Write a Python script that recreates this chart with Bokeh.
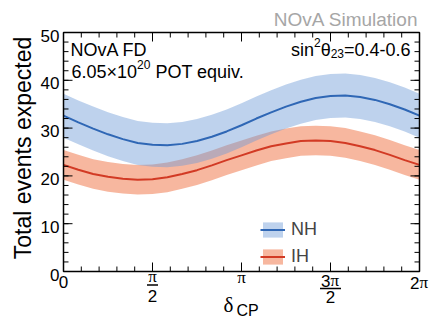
import numpy as np
from bokeh.plotting import figure
from bokeh.models import Range1d, Legend, LegendItem, ColumnDataSource
from bokeh.core.properties import value
from bokeh.embed import file_html
from bokeh.resources import INLINE

# ---------------- data ----------------
delta_over_pi = [k / 12 for k in range(25)]   # delta_CP in units of pi

nh_central = [32.6, 31.2, 29.9, 28.7, 27.7, 26.9, 26.5, 26.4, 26.7, 27.3, 28.2, 29.3,
              30.6, 32.0, 33.3, 34.5, 35.5, 36.3, 36.7, 36.8, 36.5, 35.9, 35.0, 33.9, 32.6]
nh_upper = [37.2, 35.8, 34.5, 33.3, 32.3, 31.5, 31.1, 31.0, 31.3, 31.9, 32.8, 33.9,
            35.2, 36.6, 37.9, 39.1, 40.1, 40.9, 41.3, 41.4, 41.1, 40.5, 39.6, 38.5, 37.2]
nh_lower = [28.0, 26.6, 25.3, 24.1, 23.1, 22.3, 21.9, 21.8, 22.1, 22.7, 23.6, 24.7,
            26.0, 27.4, 28.7, 29.9, 30.9, 31.7, 32.1, 32.2, 31.9, 31.3, 30.4, 29.3, 28.0]

ih_central = [22.3, 21.3, 20.4, 19.8, 19.4, 19.2, 19.3, 19.7, 20.4, 21.2, 22.2, 23.3,
              24.3, 25.3, 26.2, 26.8, 27.3, 27.4, 27.3, 26.9, 26.2, 25.4, 24.4, 23.3, 22.3]
ih_upper = [25.4, 24.4, 23.5, 22.9, 22.5, 22.3, 22.4, 22.8, 23.5, 24.3, 25.3, 26.4,
            27.4, 28.4, 29.3, 29.9, 30.4, 30.5, 30.4, 30.0, 29.3, 28.5, 27.5, 26.4, 25.4]
ih_lower = [19.2, 18.2, 17.3, 16.7, 16.3, 16.1, 16.2, 16.6, 17.3, 18.1, 19.1, 20.2,
            21.2, 22.2, 23.1, 23.7, 24.2, 24.3, 24.2, 23.8, 23.1, 22.3, 21.3, 20.2, 19.2]

xtick_over_pi = [0, 0.5, 1, 1.5, 2]
xminor_over_pi = [k / 10 for k in range(21)]
y_major = [0, 10, 20, 30, 40, 50]
y_minor = [2 * k for k in range(26)]
y_tick_labels = ["0", "10", "20", "30", "40", "50"]

series_names = ["NH", "IH"]

# ---------------- figure geometry ----------------
CW, CH = 436, 322                  # canvas
L, R, T, B = 63, 419, 32, 271      # plot box in canvas pixels
TDY = -4                           # small upward nudge applied to all texts
SANS = "Liberation Sans"
SERIF = "Liberation Serif"

x_lo, x_hi = 0.0, 2 * np.pi
y_lo, y_hi = float(y_major[0]), float(y_major[-1])
sx = (R - L) / (x_hi - x_lo)
sy = (B - T) / (y_hi - y_lo)

p = figure(width=CW, height=CH,
           x_range=Range1d(x_lo - L / sx, x_hi + (CW - R) / sx),
           y_range=Range1d(y_lo - (CH - B) / sy, y_hi + T / sy),
           output_backend="svg", toolbar_location=None, min_border=0, title=None)
p.axis.visible = False
p.grid.visible = False
p.outline_line_color = None
p.background_fill_color = "white"
p.border_fill_color = "white"


def xd(xp):
    return x_lo + (xp - L) / sx


def yd(yp):
    return y_lo + (B - yp) / sy


x_major = [t * np.pi for t in xtick_over_pi]
x_minor = [t * np.pi for t in xminor_over_pi]

# ---------------- bands & curves ----------------
src = ColumnDataSource(dict(
    x=[d * np.pi for d in delta_over_pi],
    nh=nh_central, nh_lo=nh_lower, nh_hi=nh_upper,
    ih=ih_central, ih_lo=ih_lower, ih_hi=ih_upper))

ih_band = p.varea(x="x", y1="ih_lo", y2="ih_hi", source=src,
                  fill_color="#f07040", fill_alpha=0.5)
nh_band = p.varea(x="x", y1="nh_lo", y2="nh_hi", source=src,
                  fill_color="#6f9bd8", fill_alpha=0.45)
nh_line = p.line(x="x", y="nh", source=src, line_color="#2f67b5", line_width=2)
ih_line = p.line(x="x", y="ih", source=src, line_color="#d23a24", line_width=2)

# ---------------- plot box and inward ticks ----------------
p.quad(left=[x_lo], right=[x_hi], bottom=[y_lo], top=[y_hi],
       fill_color=None, line_color="black", line_width=1.5)

tick_kw = dict(length_units="screen", line_color="black", line_width=1)
for xs, ln in ((x_major, 9), (x_minor, 5)):
    p.ray(x=xs, y=[y_lo] * len(xs), length=ln, angle=np.pi / 2, **tick_kw)
    p.ray(x=xs, y=[y_hi] * len(xs), length=ln, angle=-np.pi / 2, **tick_kw)
for ys, ln in ((y_major, 9), (y_minor, 5)):
    p.ray(x=[x_lo] * len(ys), y=ys, length=ln, angle=0, **tick_kw)
    p.ray(x=[x_hi] * len(ys), y=ys, length=ln, angle=np.pi, **tick_kw)

# y tick labels (baseline ~7px below the tick)
p.text(x=[xd(L - 4)] * len(y_major), y=[v - (7 + TDY) / sy for v in y_major],
       text=y_tick_labels, text_align="right", text_baseline="alphabetic",
       text_font=value(SANS), text_font_size=value("17px"), text_color="black")

# ---------------- legend ----------------
legend = Legend(items=[LegendItem(label=series_names[0], renderers=[nh_band, nh_line]),
                       LegendItem(label=series_names[1], renderers=[ih_band, ih_line])],
                location=(260, CH - 267), glyph_width=25, glyph_height=19,
                label_height=19, spacing=6, padding=0, margin=0, border_line_color=None,
                background_fill_alpha=0, label_text_font=SANS,
                label_text_font_size="18px", label_standoff=6)
p.add_layout(legend)


# ---------------- texts (glyphs placed through the scales) ----------------
def txt(text, xp, yp, size, font=SANS, align="left", color="black", xdata=None, angle=0.0):
    x = xdata if xdata is not None else xd(xp)
    p.text(x=[x], y=[yd(yp + TDY)], text=[text], angle=angle, text_align=align,
           text_baseline="alphabetic", text_font=value(font),
           text_font_size=value(f"{size}px"), text_color=color)


txt("NOvA Simulation", 418, 23, 19, align="right", color="#a6a6a6")
txt("NOvA FD", 70, 53, 18)
txt("6.05\u00d710", 71, 75, 18)
txt("20", 71 + 65.6, 68, 12)
txt("POT equiv.", 71 + 65.6 + 13.3 + 5, 75, 18)

# sin^2 theta_23 = 0.4-0.6  (right aligned pieces)
r = 410
txt("=0.4-0.6", r, 53, 18, align="right")
r -= 66.5
txt("23", r, 57, 12, align="right")
r -= 13.3
txt("\u03b8", r, 53, 18, align="right")
r -= 10
txt("2", r, 46, 12, align="right")
r -= 6.7
txt("sin", r, 53, 18, align="right")

# y title
txt("Total events expected", 22, (T + B) / 2, 23, align="center", angle=np.pi / 2)

# x tick labels
txt("0", 0, 285, 17, align="center", xdata=x_major[0])
txt("\u03c0", 0, 280, 17, font=SERIF, align="center", xdata=x_major[1])
txt("2", 0, 299, 17, align="center", xdata=x_major[1])
txt("\u03c0", 0, 281, 17, font=SERIF, align="center", xdata=x_major[2])
txt("3", 0, 284, 17, align="right", xdata=x_major[3])
txt("\u03c0", 0, 284, 17, font=SERIF, align="left", xdata=x_major[3])
txt("2", 0, 300, 17, align="center", xdata=x_major[3])
txt("2", 0, 286, 17, align="right", xdata=x_major[4])
txt("\u03c0", 0, 286, 17, font=SERIF, align="left", xdata=x_major[4])

# fraction bars
bar_ticks = [x_major[1], x_major[3]]
bar_half = [5.5 / sx, 10.5 / sx]
bar_y = [yd(284.5), yd(288)]
p.segment(x0=[t - h for t, h in zip(bar_ticks, bar_half)],
          x1=[t + h for t, h in zip(bar_ticks, bar_half)],
          y0=bar_y, y1=bar_y, line_color="black", line_width=1.3)

# x axis title delta_CP
txt("\u03b4", 223, 308, 21, font=SERIF)
txt("CP", 236, 314, 16)

open("out.html", "w").write(file_html(p, INLINE))
